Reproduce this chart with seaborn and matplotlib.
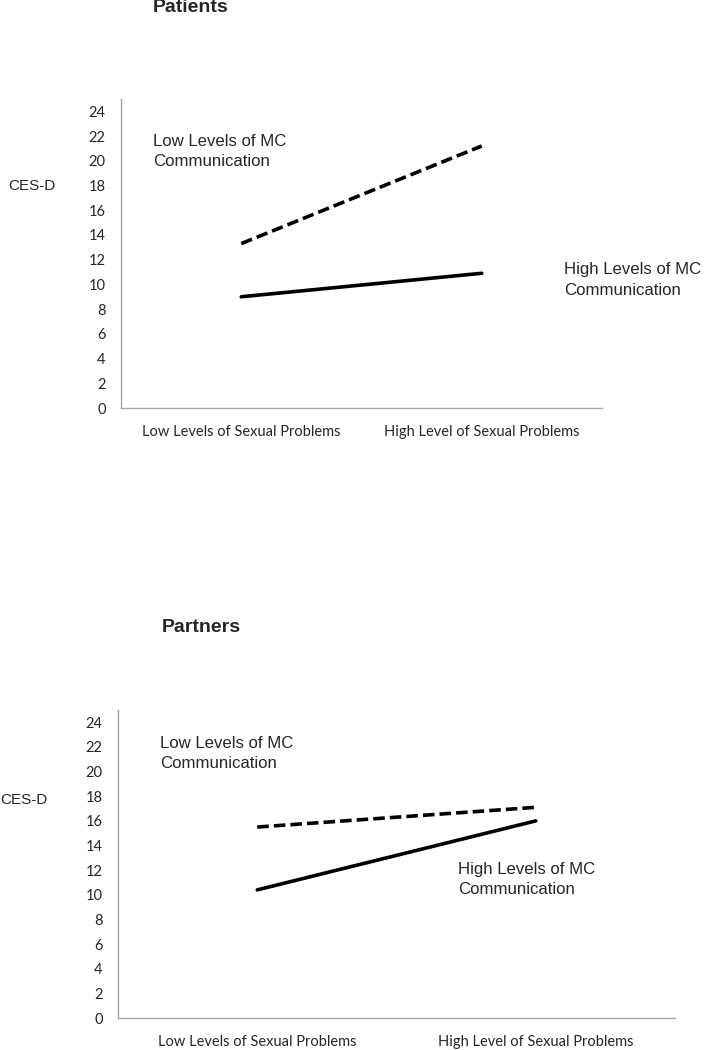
import pandas as pd
import matplotlib
matplotlib.use('Agg')
import matplotlib.pyplot as plt
import seaborn as sns

# data
categories = ['Low Levels of Sexual Problems', 'High Level of Sexual Problems']
groups = ['Low Levels of MC Communication', 'High Levels of MC Communication']
patients_low_mc = [13.3, 21.2]
patients_high_mc = [9.0, 10.9]
partners_low_mc = [15.5, 17.1]
partners_high_mc = [10.4, 16.0]
y_ticks = list(range(0, 25, 2))


def make_df(low_vals, high_vals):
    rows = []
    for c, v in zip(categories, low_vals):
        rows.append({'cat': c, 'group': groups[0], 'cesd': v})
    for c, v in zip(categories, high_vals):
        rows.append({'cat': c, 'group': groups[1], 'cesd': v})
    return pd.DataFrame(rows)


sns.set_style('white')
plt.rcParams['font.family'] = ['Liberation Sans', 'DejaVu Sans']

fig = plt.figure(figsize=(7.04, 10.5), dpi=100)
ax1 = fig.add_axes([121 / 704, 1 - 408 / 1050, 481 / 704, 309 / 1050])
ax2 = fig.add_axes([118 / 704, 1 - 1018 / 1050, 557 / 704, 308 / 1050])

grey = '#a6a6a6'
tick_font = {'family': 'Lato', 'size': 10.5}


def draw(ax, df):
    sns.lineplot(data=df, x='cat', y='cesd', hue='group', style='group',
                 palette={groups[0]: 'black', groups[1]: 'black'},
                 dashes={groups[0]: (3.2, 1.4), groups[1]: ''},
                 linewidth=2.6, legend=False, ax=ax, sort=False)
    ax.set_xlim(-0.5, 1.5)
    ax.set_ylim(0, 25)
    ax.set_yticks(y_ticks)
    ax.set_yticklabels([str(t) for t in y_ticks], fontdict=tick_font)
    ax.set_xticks([-0.5, 0.5, 1.5])
    ax.set_xticklabels(['', '', ''])
    ax.set_xticks([0, 1], minor=True)
    ax.set_xticklabels(categories, minor=True, fontdict=tick_font)
    ax.tick_params(axis='x', which='minor', length=0, pad=12)
    ax.tick_params(axis='x', which='major', length=5, color=grey, direction='out')
    ax.tick_params(axis='y', length=5, color=grey, direction='out', pad=6)
    for s in ['top', 'right']:
        ax.spines[s].set_visible(False)
    for s in ['left', 'bottom']:
        ax.spines[s].set_color(grey)
        ax.spines[s].set_linewidth(1.0)
    ax.set_xlabel('')
    ax.set_ylabel('')


draw(ax1, make_df(patients_low_mc, patients_high_mc))
draw(ax2, make_df(partners_low_mc, partners_high_mc))

ann = dict(fontsize=12.1, va='top', ha='left', linespacing=1.45)
ax1.text(-0.367, 22.2, 'Low Levels of MC\nCommunication', **ann)
ax1.text(1.342, 11.8, 'High Levels of MC\nCommunication', **ann)
ax2.text(-0.349, 22.9, 'Low Levels of MC\nCommunication', **ann)
ax2.text(0.721, 12.7, 'High Levels of MC\nCommunication', **ann)

fig.text(153 / 704, 1 - 8 / 1050, 'Patients', fontsize=14, fontweight='bold',
         ha='left', va='center')
fig.text(162 / 704, 1 - 627 / 1050, 'Partners', fontsize=14, fontweight='bold',
         ha='left', va='center')
fig.text(8 / 704, 1 - 186 / 1050, 'CES-D', fontsize=11, ha='left', va='center')
fig.text(0 / 704, 1 - 800 / 1050, 'CES-D', fontsize=11, ha='left', va='center')

fig.savefig('out.png', dpi=100)
